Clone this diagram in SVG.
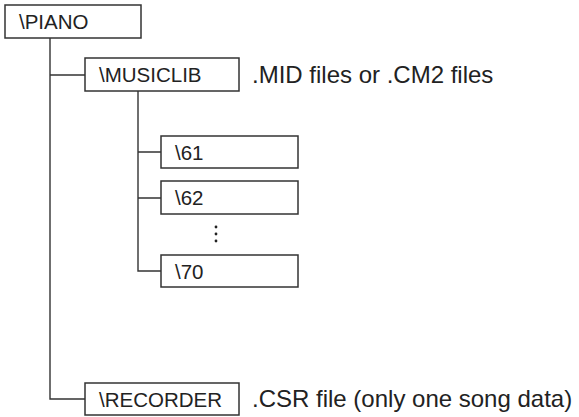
<svg xmlns="http://www.w3.org/2000/svg" width="579" height="417" viewBox="0 0 579 417">
<style>
.box{fill:#fff;stroke:#333;stroke-width:1.5}
.conn{fill:none;stroke:#333;stroke-width:1.4}
.t{font-family:"Liberation Sans",Arial,sans-serif;font-size:20.5px;fill:#222}
.lbl{font-family:"Liberation Sans",Arial,sans-serif;font-size:24px;fill:#222}
</style>
<rect width="579" height="417" fill="#fff"/>
<g id="connectors">
<path class="conn" d="M50 38V399H85M50 75H85"/>
<path class="conn" d="M138 91V271H161M138 152H161M138 198H161"/>
</g>
<g id="piano"><rect class="box" x="5" y="5" width="136" height="33"/><text class="t" x="19" y="29">\PIANO</text></g>
<g id="musiclib"><rect class="box" x="85" y="58" width="154" height="33"/><text class="t" x="99" y="82">\MUSICLIB</text></g>
<text class="lbl" x="252" y="83">.MID files or .CM2 files</text>
<g id="n61"><rect class="box" x="161" y="136" width="137" height="32"/><text class="t" x="175" y="159.5">\61</text></g>
<g id="n62"><rect class="box" x="161" y="181" width="137" height="33"/><text class="t" x="175" y="205">\62</text></g>
<g id="dots" fill="#222"><circle cx="216" cy="227" r="1.4"/><circle cx="216" cy="234" r="1.4"/><circle cx="216" cy="241" r="1.4"/></g>
<g id="n70"><rect class="box" x="161" y="255" width="137" height="32"/><text class="t" x="175" y="278.5">\70</text></g>
<g id="recorder"><rect class="box" x="85" y="383" width="154" height="32"/><text class="t" x="99" y="406.5">\RECORDER</text></g>
<text class="lbl" x="252" y="407">.CSR file (only one song data)</text>
</svg>
